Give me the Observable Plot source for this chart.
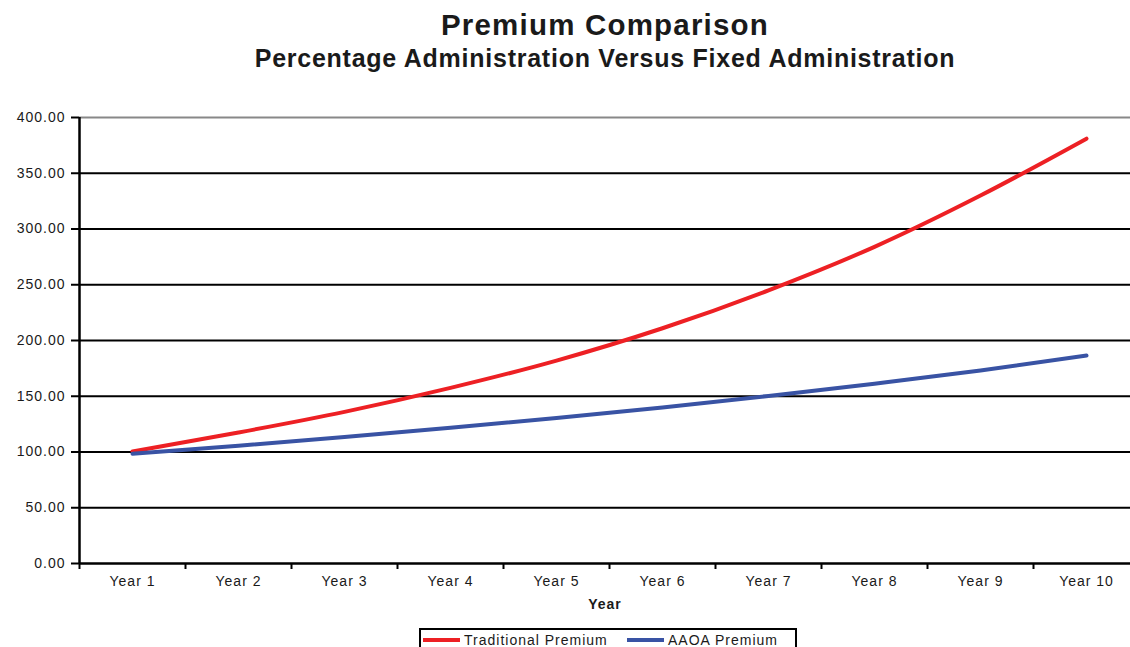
<!DOCTYPE html>
<html>
<head>
<meta charset="utf-8">
<script src="https://cdn.jsdelivr.net/npm/d3@7"></script>
<script src="https://cdn.jsdelivr.net/npm/@observablehq/plot@0.6"></script>
<style>
  html, body { margin: 0; padding: 0; background: #fff; }
  #wrap { position: relative; width: 1130px; height: 647px; overflow: hidden; font-family: "Liberation Sans", Arial, sans-serif; color: #1a1a1a; }
  .title { position: absolute; left: 80px; width: 1050px; text-align: center; font-weight: bold; line-height: 1; white-space: nowrap; }
  #t1 { top: 10px; font-size: 29.5px; letter-spacing: 1.2px; }
  #t2 { top: 46px; font-size: 25px; letter-spacing: 0.75px; }
  #chart { position: absolute; left: 0; top: 80px; }
  #legend { position: absolute; left: 419px; top: 628px; width: 378px; height: 30px; border: 2px solid #000; box-sizing: border-box; background: #fff; font-size: 14px; letter-spacing: 1px; }
  .item { position: absolute; top: 2px; display: flex; align-items: center; white-space: nowrap; }
  .sw { display: inline-block; width: 37px; height: 4px; margin-right: 4px; }
</style>
</head>
<body>
<div id="wrap">
  <div class="title" id="t1">Premium Comparison</div>
  <div class="title" id="t2">Percentage Administration Versus Fixed Administration</div>
  <div id="chart"></div>
  <div id="legend"></div>
</div>
<script>
const years = ["Year 1","Year 2","Year 3","Year 4","Year 5","Year 6","Year 7","Year 8","Year 9","Year 10"];
const traditional = [100.5, 117.5, 136, 157.5, 182, 211, 245, 284, 330, 381];
const aaoa = [98.5, 105.7, 113.4, 121.7, 130.5, 140, 150.3, 161.3, 173, 186.5];
const yTicks = [0, 50, 100, 150, 200, 250, 300, 350, 400];
const seriesNames = ["Traditional Premium", "AAOA Premium"];
const seriesColors = ["#ed2024", "#3953a4"];

const data = [];
years.forEach((y, i) => {
  data.push({year: y, value: traditional[i], series: seriesNames[0]});
  data.push({year: y, value: aaoa[i], series: seriesNames[1]});
});

const xRange = [79, 1139];
const halfBand = (xRange[1] - xRange[0]) / years.length / 2;

const chart = Plot.plot({
  width: 1130,
  height: 548,
  marginTop: 37,
  marginBottom: 65,
  marginLeft: 79,
  marginRight: 0,
  style: {fontFamily: "'Liberation Sans', Arial, sans-serif", fontSize: "14px", letterSpacing: "1px", color: "#1a1a1a", background: "transparent"},
  x: {type: "band", domain: years, range: xRange, padding: 0},
  y: {domain: [0, 400], ticks: yTicks},
  color: {domain: seriesNames, range: seriesColors},
  marks: [
    Plot.ruleY(yTicks.filter(v => v > 0 && v < 400), {stroke: "#000", strokeWidth: 2}),
    Plot.ruleY([400], {stroke: "#888", strokeWidth: 2}),
    Plot.axisY({ticks: yTicks, tickFormat: d => d.toFixed(2), tickSize: 8, tickPadding: 6, stroke: "#000", strokeWidth: 2, strokeOpacity: 1, label: null, fill: "#1a1a1a"}),
    Plot.axisX({tickSize: 6, text: null, dx: -halfBand, stroke: "#000", strokeWidth: 2, strokeOpacity: 1, label: null}),
    Plot.axisX({tickSize: 0, tickPadding: 13, label: null, fill: "#1a1a1a"}),
    Plot.text(["Year"], {frameAnchor: "bottom", dy: 45, fontWeight: "bold", fill: "#1a1a1a"}),
    Plot.line(data, {x: "year", y: "value", stroke: "series", z: "series", strokeWidth: 4, curve: "monotone-x"}),
    Plot.ruleY([0], {stroke: "#000", strokeWidth: 2.5}),
    Plot.ruleX([years[0]], {y1: 0, y2: 400, dx: -halfBand, stroke: "#000", strokeWidth: 2.5})
  ]
});
document.getElementById("chart").appendChild(chart);

const legend = document.getElementById("legend");
const lefts = [2, 206];
seriesNames.forEach((name, i) => {
  const item = document.createElement("div");
  item.className = "item";
  item.style.left = lefts[i] + "px";
  const sw = document.createElement("span");
  sw.className = "sw";
  sw.style.background = seriesColors[i];
  const tx = document.createElement("span");
  tx.textContent = name;
  item.appendChild(sw);
  item.appendChild(tx);
  legend.appendChild(item);
});
</script>
</body>
</html>
